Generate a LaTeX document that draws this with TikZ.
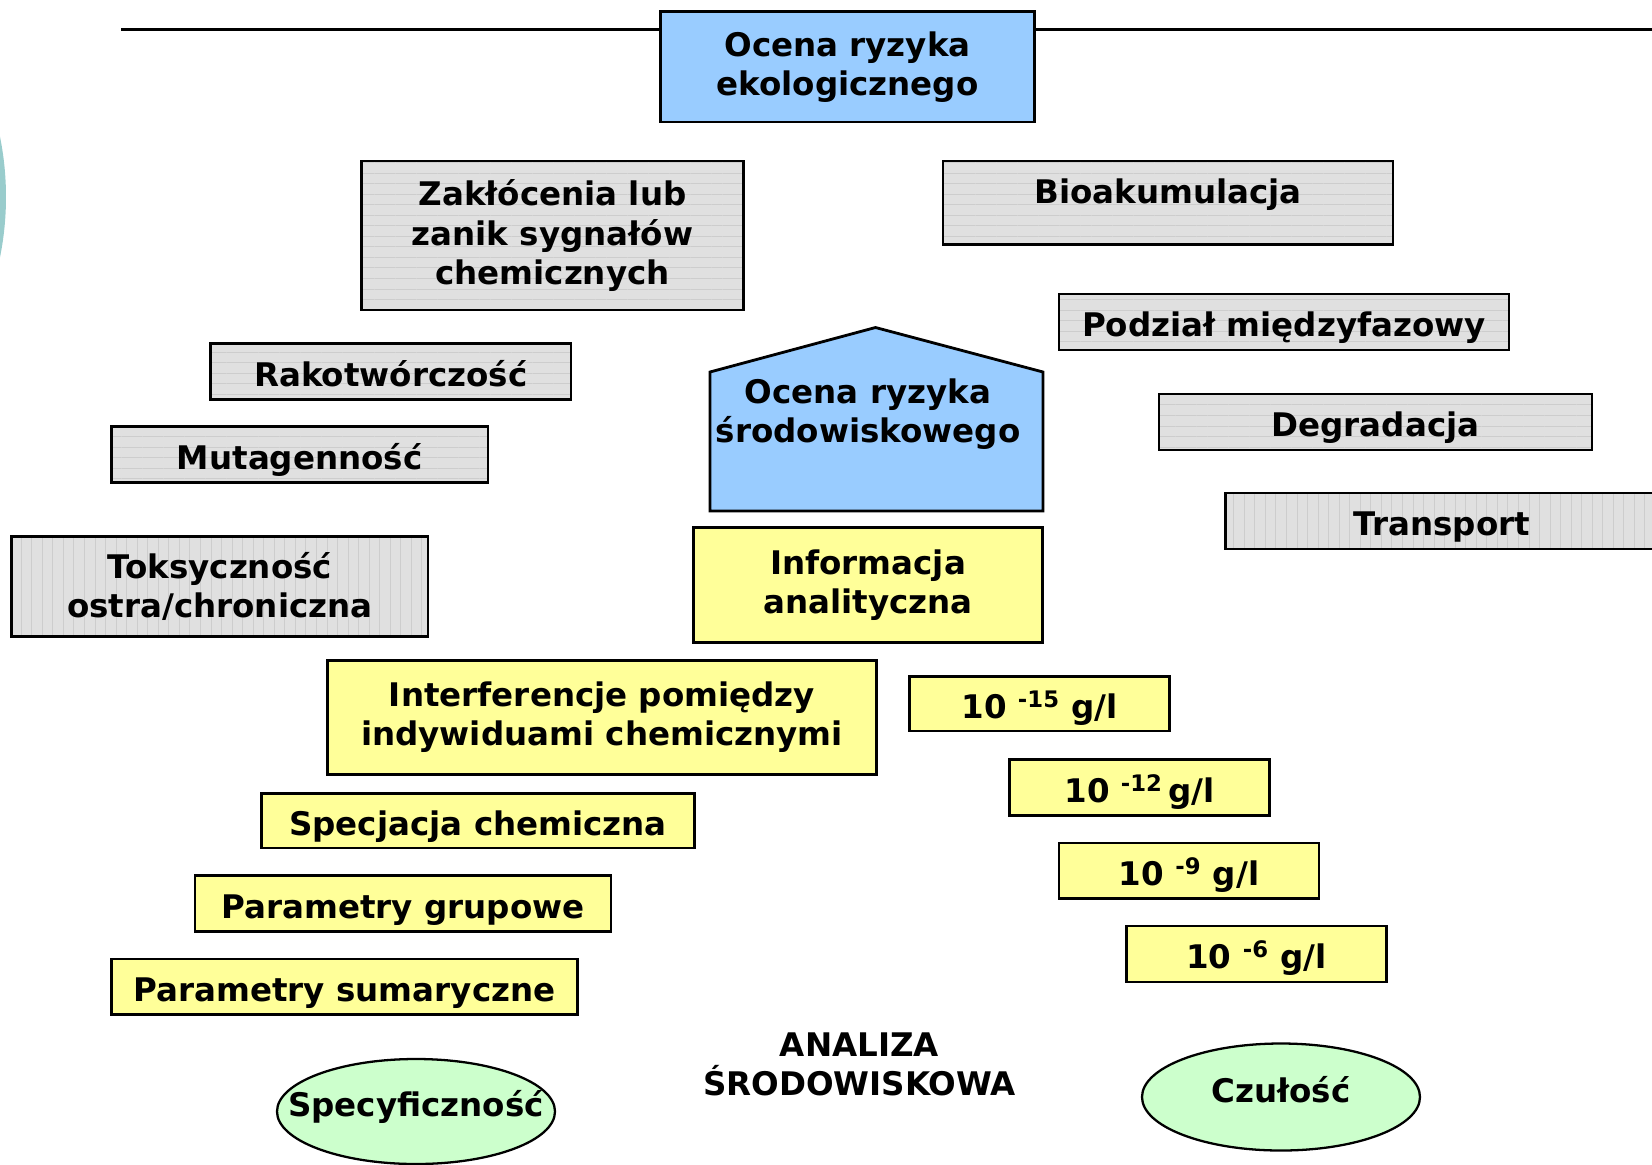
\documentclass[tikz,border=0pt]{standalone}
\usepackage{fontspec}
\setmainfont{DejaVu Sans}
\usetikzlibrary{shapes.geometric,patterns.meta}

\definecolor{skyblue}{HTML}{99CCFF}
\definecolor{paleyellow}{HTML}{FFFF99}
\definecolor{palegreen}{HTML}{CCFFCC}
\definecolor{boxgray}{HTML}{E0E0E0}
\definecolor{stripegray}{HTML}{CDCDCD}
\definecolor{tealarc}{HTML}{99CCCC}

\tikzset{
  txt/.style={align=center, inner sep=0pt, font=\bfseries\fontsize{18.5}{22.2}\selectfont},
  oneline/.style={text height=17pt, text depth=0pt},
  box/.style={txt, draw=black, line width=1.6pt, rectangle},
  bluebox/.style={box, fill=skyblue},
  yellowbox/.style={box, fill=paleyellow},
  hstripes/.style={box, preaction={fill=boxgray}, pattern={Lines[angle=0,distance=6pt,line width=0.4pt]}, pattern color=stripegray},
  vstripes/.style={box, preaction={fill=boxgray}, pattern={Lines[angle=90,distance=6pt,line width=0.4pt]}, pattern color=stripegray},
  oval/.style={ellipse, draw=black, line width=1.3pt, fill=palegreen, inner sep=0pt}
}

\begin{document}
\begin{tikzpicture}[x=1cm, y=-1cm]
		%%%%% START %%%%%
		\useasboundingbox (0,0) rectangle (33.04,23.28);
		
		\begin{scope}
			\clip (0,0) rectangle (33.04,23.28);
			\fill[tealarc] (-5.94,3.94) circle (6.06);
		\end{scope}
		
		\draw[line width=1.8pt] (2.42,0.59) -- (33.04,0.59);
		\node[bluebox, minimum width=7.48cm, minimum height=2.21cm] (ekolog) at (16.95,1.335) {Ocena ryzyka\\ekologicznego};
		
		% zagrozenia - lewa strona
		\node[hstripes, minimum width=7.65cm, minimum height=2.98cm] (zaklocenia) at (11.05,4.71) {Zakłócenia lub\\zanik sygnałów\\chemicznych};
		\node[hstripes, oneline, minimum width=7.21cm, minimum height=1.12cm] (rakotw) at (7.815,7.43) {Rakotwórczość};
		\node[hstripes, oneline, minimum width=7.53cm, minimum height=1.12cm] (mutagen) at (5.995,9.09) {Mutagenność};
		\node[vstripes, minimum width=8.33cm, minimum height=2.0cm] (toksyc) at (4.395,11.73) {Toksyczność\\ostra/chroniczna};
		
		% zagrozenia - prawa strona
		\node[hstripes, minimum width=9.0cm, minimum height=1.67cm, text height=0.84cm, text depth=0.83cm] (bioakum) at (23.36,4.055) {Bioakumulacja};
		\node[hstripes, oneline, minimum width=9.0cm, minimum height=1.12cm] (podzial) at (25.68,6.44) {Podział międzyfazowy};
		\node[hstripes, oneline, minimum width=8.66cm, minimum height=1.12cm] (degrad) at (27.51,8.44) {Degradacja};
		\node[vstripes, oneline, minimum width=8.66cm, minimum height=1.12cm] (transp) at (28.84,10.42) {Transport};
		
		% dom
		\draw[fill=skyblue, line width=1.6pt] (14.20,10.22) -- (14.20,7.44) -- (17.51,6.55) -- (20.86,7.44) -- (20.86,10.22) -- cycle;
		\node[txt] (ocenasrod) at (17.36,8.28) {Ocena ryzyka\\środowiskowego};
		
		\node[yellowbox, minimum width=6.99cm, minimum height=2.31cm] (informacja) at (17.36,11.70) {Informacja\\analityczna};
		
		% specyficznosc
		\node[yellowbox, minimum width=10.98cm, minimum height=2.28cm] (interfer) at (12.04,14.35) {Interferencje pomiędzy\\indywiduami chemicznymi};
		\node[yellowbox, oneline, minimum width=8.66cm, minimum height=1.09cm] (specjacja) at (9.56,16.415) {Specjacja chemiczna};
		\node[yellowbox, oneline, minimum width=8.32cm, minimum height=1.12cm] (pgrupowe) at (8.06,18.07) {Parametry grupowe};
		\node[yellowbox, oneline, minimum width=9.32cm, minimum height=1.11cm] (psumar) at (6.89,19.735) {Parametry sumaryczne};
		
		% czulosc
		\node[yellowbox, oneline, minimum width=5.2cm, minimum height=1.09cm] (st15) at (20.79,14.075) {10 \textsuperscript{-15} g/l};
		\node[yellowbox, oneline, minimum width=5.2cm, minimum height=1.12cm] (st12) at (22.79,15.75) {10 \textsuperscript{-12}\,g/l};
		\node[yellowbox, oneline, minimum width=5.2cm, minimum height=1.11cm] (st9) at (23.78,17.415) {10 \textsuperscript{-9} g/l};
		\node[yellowbox, oneline, minimum width=5.2cm, minimum height=1.12cm] (st6) at (25.13,19.08) {10 \textsuperscript{-6} g/l};
		
		\node[oval, minimum width=5.56cm, minimum height=2.1cm] (specyf) at (8.32,22.23) {};
		\node[txt] (specyftxt) at (8.32,22.14) {Specyficzność};
		\node[oval, minimum width=5.56cm, minimum height=2.14cm] (czulosc) at (25.62,21.94) {};
		\node[txt] (czulosctxt) at (25.62,21.80) {Czułość};
		
		\node[txt] (analiza) at (17.19,21.28) {ANALIZA\\ŚRODOWISKOWA};
		
		%%%%% END %%%%%
\end{tikzpicture}
\end{document}
